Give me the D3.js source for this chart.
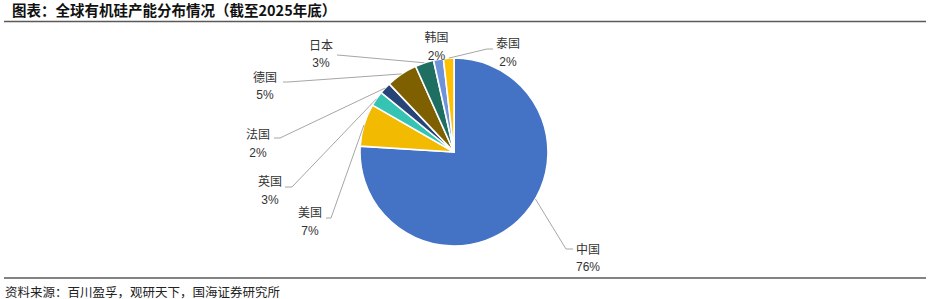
<!DOCTYPE html>
<html><head><meta charset="utf-8">
<script src="https://cdn.jsdelivr.net/npm/d3@7"></script>
<style>
html,body{margin:0;padding:0;background:#fff;}
svg{display:block;font-family:"Noto Sans CJK SC","Noto Sans",sans-serif;}
</style></head><body>
<svg id="chart" width="930" height="299"></svg>
<script>
// ---- data ----
const categories = ["中国","美国","英国","法国","德国","日本","韩国","泰国"];
const shares = [76.0, 7.3, 2.6, 2.0, 5.4, 3.2, 1.7, 1.8];
const colors = ["#4472C4","#F2BA00","#35C3B4","#264478","#7F6000","#1E6F61","#6F93D8","#FFC000"];
const title = "图表：全球有机硅产能分布情况（截至2025年底）";
const source = "资料来源：百川盈孚，观研天下，国海证券研究所";

// ---- layout (positions only) ----
const W = 930, H = 299;
const cx = 454, cy = 152, R = 94;
// label centre x, name centre y, pct centre y, leader start, elbow, anchor angle override
const labelLayout = [
  {x:588, ny:250, py:266.5, start:[573,249], elbow:[566,249], angle:120},
  {x:310, ny:212.5, py:230.5, start:[326,218], elbow:[331,218]},
  {x:270, ny:182, py:199.5, start:[285,187], elbow:[292,187]},
  {x:258, ny:134.5, py:153, start:[274,138], elbow:[280,138]},
  {x:265, ny:77.5, py:95, start:[283,82], elbow:[288,82]},
  {x:321, ny:46, py:62.5, start:[337,55], elbow:[341,55.3]},
  {x:436.5, ny:37.5, py:55.5, start:null},
  {x:508, ny:44, py:62, start:[493,49], elbow:[487,49]}
];

const svg = d3.select("#chart");

// title
svg.append("text").attr("x", 12).attr("y", 15.5)
  .attr("font-size", 14.5).attr("font-weight", 700).attr("fill", "#111")
  .text(title);
svg.append("line").attr("x1", 4).attr("x2", 926).attr("y1", 21.5).attr("y2", 21.5)
  .attr("stroke", "#5a5a5a").attr("stroke-width", 1.5);

// bottom rule + source
svg.append("line").attr("x1", 4).attr("x2", 926).attr("y1", 278).attr("y2", 278)
  .attr("stroke", "#5a5a5a").attr("stroke-width", 1.5);
svg.append("text").attr("x", 5).attr("y", 296.5)
  .attr("font-size", 12.5).attr("fill", "#222")
  .text(source);

// pie
const data = categories.map((c,i)=>({name:c, value:shares[i], color:colors[i], i}));
const pie = d3.pie().value(d=>d.value).sort(null);
const arcs = pie(data);
const arc = d3.arc().innerRadius(0).outerRadius(R);

const g = svg.append("g").attr("transform", `translate(${cx},${cy})`);
g.selectAll("path").data(arcs).enter().append("path")
  .attr("d", arc)
  .attr("fill", d=>d.data.color)
  .attr("stroke", "#fff").attr("stroke-width", 1.6).attr("stroke-linejoin","round");

// leader lines + labels
const pctFmt = v => Math.round(v) + "%";
arcs.forEach((a, i) => {
  const L = labelLayout[i];
  if (L.start) {
    const ang = (L.angle !== undefined) ? L.angle*Math.PI/180 : (a.startAngle + a.endAngle)/2;
    const ax = cx + R*Math.sin(ang), ay = cy - R*Math.cos(ang);
    svg.append("polyline")
      .attr("points", [L.start, L.elbow, [ax, ay]].map(p=>p.join(",")).join(" "))
      .attr("fill", "none").attr("stroke", "#a6a6a6").attr("stroke-width", 1);
  }
  svg.append("text").attr("x", L.x).attr("y", L.ny).attr("dy", "0.36em")
    .attr("text-anchor", "middle").attr("font-size", 12).attr("fill", "#333")
    .text(a.data.name);
  svg.append("text").attr("x", L.x).attr("y", L.py).attr("dy", "0.36em")
    .attr("text-anchor", "middle").attr("font-size", 12).attr("fill", "#333")
    .attr("font-family", "Arial, 'Liberation Sans', sans-serif")
    .text(pctFmt(a.data.value));
});
</script>
</body></html>
